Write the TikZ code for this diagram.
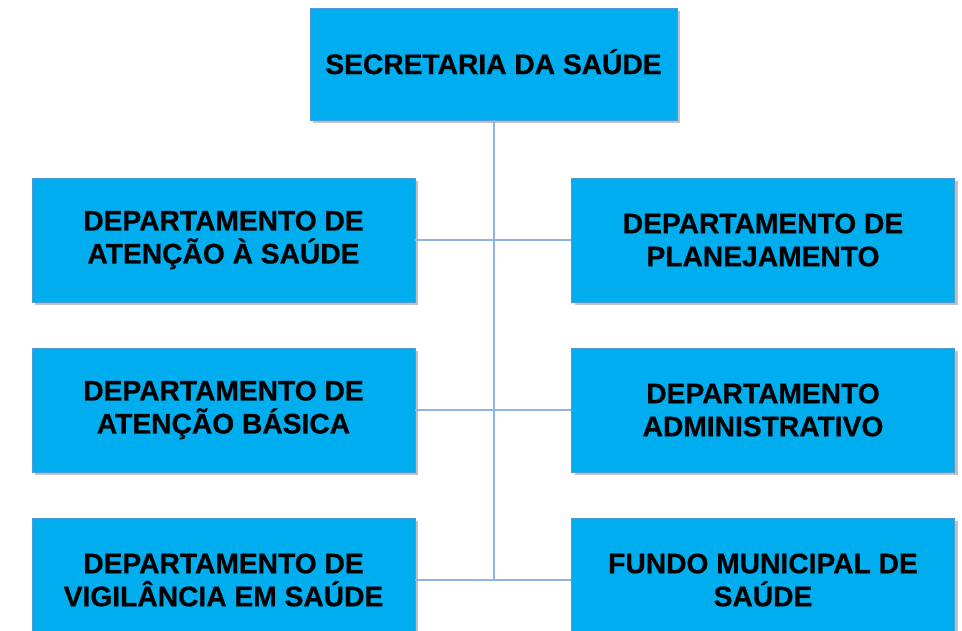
\documentclass[tikz,border=0pt]{standalone}
\usepackage{fontspec}
\setmainfont{Liberation Sans}[BoldFeatures={FakeBold=0.6}]
\usetikzlibrary{shadows}
\definecolor{boxfill}{HTML}{00AEEF}
\definecolor{boxline}{HTML}{4A9BDA}
\definecolor{conn}{HTML}{8DB4E2}
\tikzset{
  orgbox/.style={draw=boxline, line width=0.8pt, fill=boxfill, align=center,
    font=\fontsize{28.2}{33}\selectfont\bfseries, text=black,
    drop shadow={shadow xshift=3pt, shadow yshift=-3pt, opacity=0.35, fill=black!70}},
  sidebox/.style={orgbox, minimum width=383pt, minimum height=124pt, inner sep=0pt},
  topbox/.style={orgbox, minimum width=367pt, minimum height=112pt, inner sep=0pt,
    text height=20pt, text depth=0pt},
  link/.style={draw=conn, line width=2pt}
}
\begin{document}
\begin{tikzpicture}[x=1pt,y=1pt]
\useasboundingbox (0,0) rectangle (962,-630);
\fill[white] (0,0) rectangle (962,-630);
\coordinate (vbot) at (493.5,-580);
\node[topbox] (top) at (493.5,-64) {SECRETARIA DA SAÚDE};
\node[sidebox] (l1) at (223.5,-240) {DEPARTAMENTO DE\\ATENÇÃO À SAÚDE};
\node[sidebox] (l2) at (223.5,-410) {DEPARTAMENTO DE\\ATENÇÃO BÁSICA};
\node[sidebox] (l3) at (223.5,-580) {DEPARTAMENTO DE\\VIGILÂNCIA EM SAÚDE};
\node[sidebox] (r1) at (763,-240) {DEPARTAMENTO DE\\PLANEJAMENTO};
\node[sidebox] (r2) at (763,-410) {DEPARTAMENTO\\ADMINISTRATIVO};
\node[sidebox] (r3) at (763,-580) {FUNDO MUNICIPAL DE\\SAÚDE};
\draw[link] (top.south) -- (vbot);
\draw[link] (l1.east) -- (r1.west);
\draw[link] (l2.east) -- (r2.west);
\draw[link] (l3.east) -- (r3.west);
\end{tikzpicture}
\end{document}
